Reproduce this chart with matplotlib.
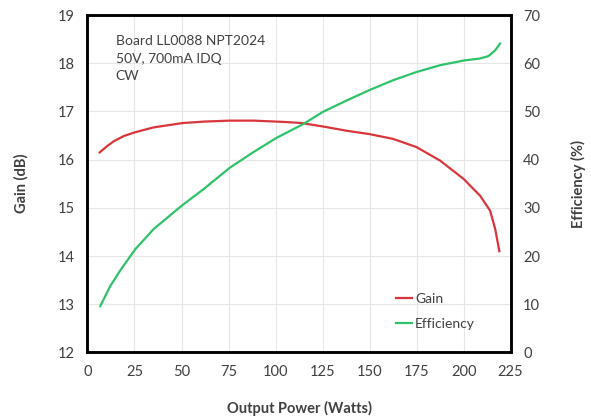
import matplotlib.pyplot as plt

# Gain (dB) vs output power (W)
gain_power = [6.5, 10.4, 13.9, 19.3, 25.4, 35.2, 50.6, 62, 75.6, 88.4, 100.4, 106, 113.9, 125,
              137.9, 150, 162.6, 175, 187.5, 200, 208.8, 214.1, 216.8, 219.0]
gain_db = [16.15, 16.28, 16.38, 16.49, 16.57, 16.67, 16.76, 16.79, 16.81, 16.81, 16.79, 16.78,
           16.76, 16.69, 16.60, 16.53, 16.43, 16.26, 15.98, 15.60, 15.25, 14.94, 14.56, 14.10]

# Efficiency (%) vs output power (W)
eff_power = [6.8, 12.1, 17.4, 25.4, 35.2, 50.6, 61.8, 75.6, 88.4, 100.4, 114.8, 125.1, 137.9,
             150.3, 162.6, 175, 187.5, 200.4, 208.8, 213.2, 216.8, 219.4]
eff_pct = [9.6, 13.75, 17.0, 21.4, 25.6, 30.6, 33.9, 38.3, 41.6, 44.5, 47.4, 49.9, 52.3,
           54.5, 56.5, 58.2, 59.6, 60.6, 61.0, 61.5, 62.7, 64.1]

plt.rcParams['font.family'] = ['Lato', 'DejaVu Sans']
text_color = '#404040'

fig = plt.figure(figsize=(5.91, 4.20), dpi=100)
ax = fig.add_axes([0.148, 0.161, 0.716, 0.803])
ax2 = ax.twinx()

ax.grid(True, color='#e6e6e6', linewidth=0.8)
ax.set_axisbelow(True)

l1, = ax.plot(gain_power, gain_db, color='#d9363b', linewidth=1.6, label='Gain')
l2, = ax2.plot(eff_power, eff_pct, color='#2ec26a', linewidth=1.6, label='Efficiency')

ax.set_xlim(0, 225)
ax.set_ylim(12, 19)
ax2.set_ylim(0, 70)
ax.set_xticks(range(0, 226, 25))
ax.set_yticks(range(12, 20))
ax2.set_yticks(range(0, 71, 10))

for a in (ax, ax2):
    for s in a.spines.values():
        s.set_linewidth(1.8)
        s.set_color('black')
    a.tick_params(length=0, labelsize=10.5, colors=text_color, pad=9)

ax.set_xlabel('Output Power (Watts)', fontsize=10.5, fontweight='bold', color=text_color, labelpad=16)
ax.set_ylabel('Gain (dB)', fontsize=10.5, fontweight='bold', color=text_color, labelpad=21)
ax2.set_ylabel('Efficiency (%)', fontsize=10.5, fontweight='bold', color=text_color, labelpad=22)

ax.text(0.067, 0.94, 'Board LL0088 NPT2024\n50V, 700mA IDQ\nCW', transform=ax.transAxes,
        fontsize=10, color=text_color, va='top', linespacing=1.55)

leg = ax2.legend(handles=[l1, l2], loc='lower right', bbox_to_anchor=(0.945, 0.03),
                 frameon=False, fontsize=10, handlelength=1.2, handletextpad=0.2,
                 labelspacing=0.9, labelcolor=text_color)

fig.savefig('out.png', dpi=100)
